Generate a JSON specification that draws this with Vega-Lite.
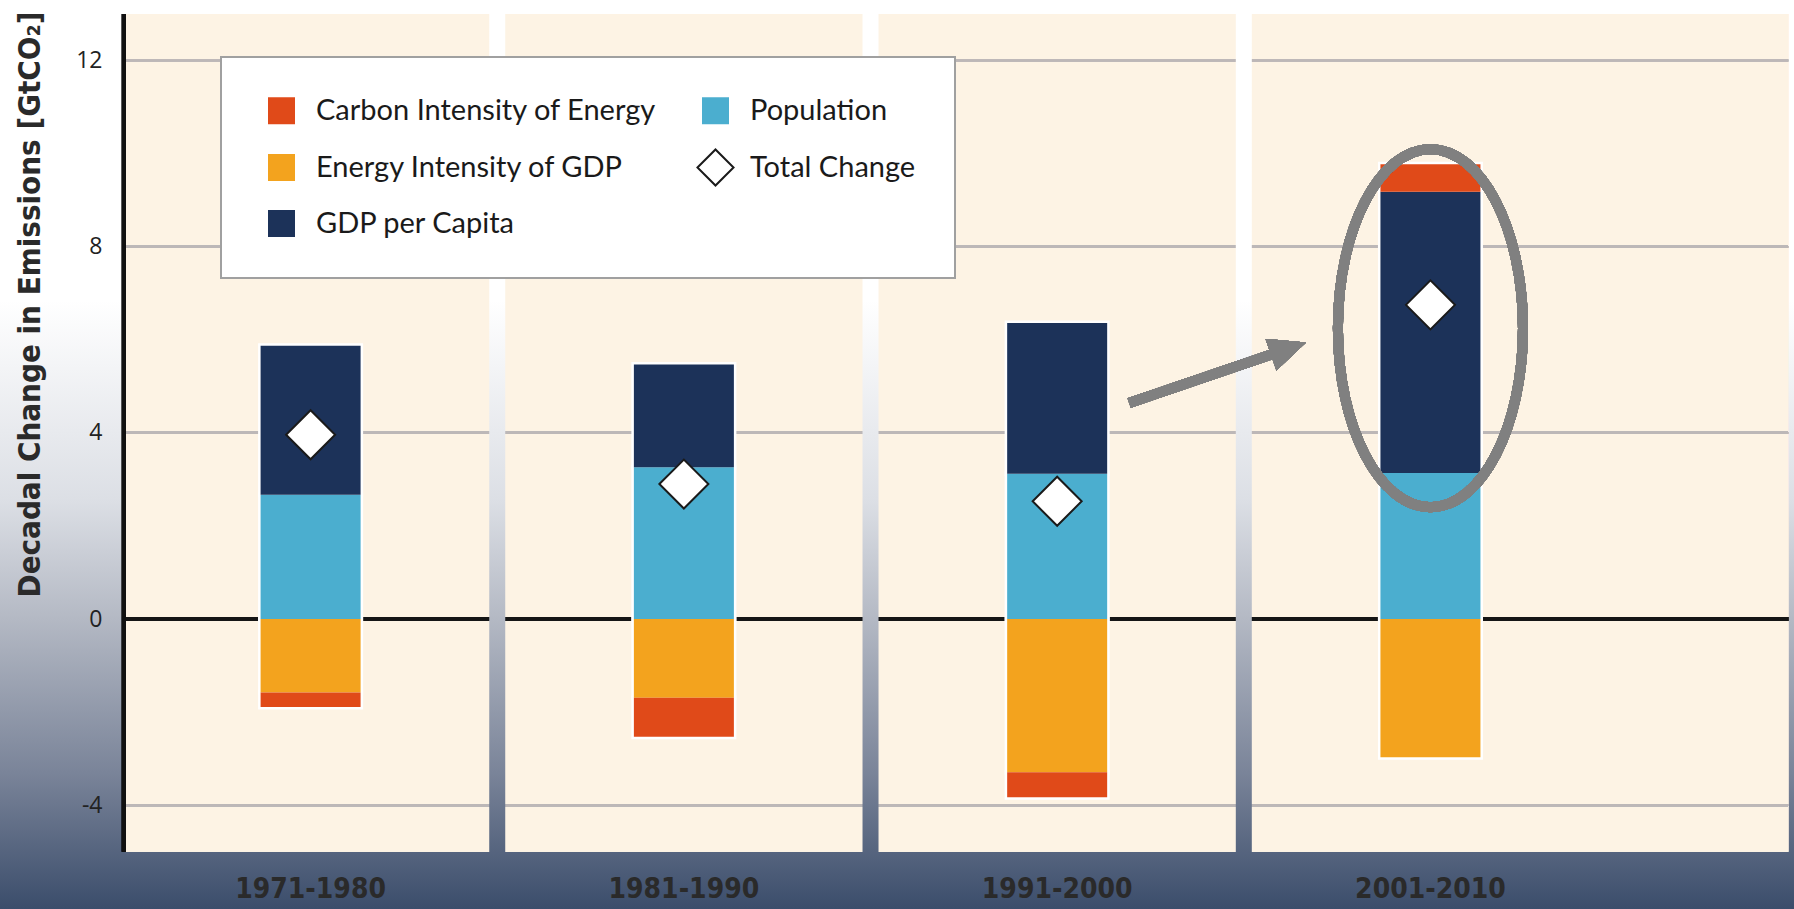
{
  "$schema": "https://vega.github.io/schema/vega-lite/v6.json",
  "width": 1794,
  "height": 909,
  "autosize": {"type": "none"},
  "padding": 0,
  "background": "#ffffff",
  "view": {
    "stroke": null,
    "fill": {
      "gradient": "linear", "x1": 0, "y1": 0, "x2": 0, "y2": 1,
      "stops": [
        {"offset": 0, "color": "#ffffff"},
        {"offset": 0.33, "color": "#ffffff"},
        {"offset": 0.55, "color": "#dcdfe5"},
        {"offset": 0.68, "color": "#b4b9c4"},
        {"offset": 0.85, "color": "#7a8499"},
        {"offset": 1, "color": "#3b4d6b"}
      ]
    }
  },
  "data": {
    "values": [
      {"decade": "1971-1980", "component": "Population", "value": 2.67},
      {"decade": "1971-1980", "component": "GDP per Capita", "value": 3.20},
      {"decade": "1971-1980", "component": "Energy Intensity of GDP", "value": -1.58},
      {"decade": "1971-1980", "component": "Carbon Intensity of Energy", "value": -0.31},
      {"decade": "1971-1980", "component": "Total Change", "value": 3.96},
      {"decade": "1981-1990", "component": "Population", "value": 3.26},
      {"decade": "1981-1990", "component": "GDP per Capita", "value": 2.21},
      {"decade": "1981-1990", "component": "Energy Intensity of GDP", "value": -1.69},
      {"decade": "1981-1990", "component": "Carbon Intensity of Energy", "value": -0.84},
      {"decade": "1981-1990", "component": "Total Change", "value": 2.90},
      {"decade": "1991-2000", "component": "Population", "value": 3.12},
      {"decade": "1991-2000", "component": "GDP per Capita", "value": 3.24},
      {"decade": "1991-2000", "component": "Energy Intensity of GDP", "value": -3.29},
      {"decade": "1991-2000", "component": "Carbon Intensity of Energy", "value": -0.54},
      {"decade": "1991-2000", "component": "Total Change", "value": 2.53},
      {"decade": "2001-2010", "component": "Population", "value": 3.14},
      {"decade": "2001-2010", "component": "GDP per Capita", "value": 6.04},
      {"decade": "2001-2010", "component": "Carbon Intensity of Energy", "value": 0.59},
      {"decade": "2001-2010", "component": "Energy Intensity of GDP", "value": -2.97},
      {"decade": "2001-2010", "component": "Total Change", "value": 6.75}
    ]
  },
  "encoding": {
    "x": {
      "field": "decade", "type": "nominal",
      "scale": {"type": "band", "paddingInner": 0, "paddingOuter": 0.403, "align": 0.412},
      "axis": {
        "orient": "bottom", "offset": -20, "title": null, "domain": false, "ticks": false, "grid": false,
        "labelAngle": 0, "labelPadding": 0, "labelBaseline": "middle",
        "labelFont": "DejaVu Sans Condensed", "labelFontWeight": "bold", "labelFontSize": 28, "labelColor": "#2a2a2a"
      }
    }
  },
  "layer": [
    {
      "mark": {"type": "rect", "color": "#fdf3e4", "x2Offset": 171},
      "encoding": {
        "x": {"datum": "1971-1980", "bandPosition": 0},
        "x2": {"datum": "2001-2010", "bandPosition": 1},
        "y": {
          "datum": 13, "type": "quantitative",
          "scale": {"domain": [-6.23, 13.30], "nice": false, "zero": false},
          "axis": {
            "orient": "left", "offset": -124, "values": [-4, 0, 4, 8, 12],
            "domain": false, "ticks": false, "grid": false, "labelPadding": 22,
            "labelExpr": "datum.value < 0 ? '-' + abs(datum.value) : datum.label",
            "labelFont": "Open Sans", "labelFontSize": 23, "labelColor": "#222222",
            "title": "Decadal Change in Emissions [GtCO₂]",
            "titleFont": "DejaVu Sans Condensed", "titleFontWeight": "bold", "titleFontSize": 31,
            "titleColor": "#2a2a2a", "titleX": -94, "titleY": 304, "titleAngle": -90,
            "titleAlign": "center", "titleBaseline": "middle"
          }
        },
        "y2": {"datum": -5}
      }
    },
    {
      "mark": {"type": "rule", "color": "#bdb7b7", "strokeWidth": 2, "x2Offset": 171},
      "encoding": {"x": {"datum": "1971-1980", "bandPosition": 0}, "x2": {"datum": "2001-2010", "bandPosition": 1}, "y": {"datum": 12}}
    },
    {
      "mark": {"type": "rule", "color": "#bdb7b7", "strokeWidth": 2, "x2Offset": 171},
      "encoding": {"x": {"datum": "1971-1980", "bandPosition": 0}, "x2": {"datum": "2001-2010", "bandPosition": 1}, "y": {"datum": 8}}
    },
    {
      "mark": {"type": "rule", "color": "#bdb7b7", "strokeWidth": 2, "x2Offset": 171},
      "encoding": {"x": {"datum": "1971-1980", "bandPosition": 0}, "x2": {"datum": "2001-2010", "bandPosition": 1}, "y": {"datum": 4}}
    },
    {
      "mark": {"type": "rule", "color": "#bdb7b7", "strokeWidth": 2, "x2Offset": 171},
      "encoding": {"x": {"datum": "1971-1980", "bandPosition": 0}, "x2": {"datum": "2001-2010", "bandPosition": 1}, "y": {"datum": -4}}
    },
    {
      "mark": {"type": "rule", "color": "#151515", "strokeWidth": 4, "x2Offset": 171},
      "encoding": {"x": {"datum": "1971-1980", "bandPosition": 0}, "x2": {"datum": "2001-2010", "bandPosition": 1}, "y": {"datum": 0}}
    },
    {
      "transform": [
        {"filter": "datum.component === 'Population' && datum.decade !== '1971-1980'"}
      ],
      "mark": {
        "type": "rect", "xOffset": -8, "x2Offset": 8,
        "fill": {
          "gradient": "linear", "x1": 0, "y1": 0, "x2": 0, "y2": 1,
          "stops": [
            {"offset": 0, "color": "#ffffff"},
            {"offset": 0.33, "color": "#ffffff"},
            {"offset": 0.55, "color": "#dcdfe5"},
            {"offset": 0.68, "color": "#b4b9c4"},
            {"offset": 0.85, "color": "#7a8499"},
            {"offset": 1, "color": "#3b4d6b"}
          ]
        }
      },
      "encoding": {
        "x": {"field": "decade", "type": "nominal", "bandPosition": 0},
        "x2": {"field": "decade", "bandPosition": 0},
        "y": {"datum": 13.30},
        "y2": {"datum": -6.23}
      }
    },
    {
      "mark": {"type": "rule", "color": "#111111", "strokeWidth": 4},
      "encoding": {"x": {"datum": "1971-1980", "bandPosition": 0}, "y": {"datum": 13}, "y2": {"datum": -5}}
    },
    {
      "transform": [{"filter": "datum.component !== 'Total Change'"}],
      "mark": {"type": "bar", "width": 100, "color": "#ffffff", "stroke": "#ffffff", "strokeWidth": 5},
      "encoding": {
        "y": {"field": "value", "type": "quantitative", "stack": "zero"},
        "order": {"field": "component", "sort": "descending"}
      }
    },
    {
      "transform": [{"filter": "datum.component !== 'Total Change'"}],
      "mark": {"type": "bar", "width": 100},
      "encoding": {
        "y": {"field": "value", "type": "quantitative", "stack": "zero"},
        "order": {"field": "component", "sort": "descending"},
        "color": {
          "field": "component", "type": "nominal",
          "scale": {
            "domain": ["Carbon Intensity of Energy", "Energy Intensity of GDP", "GDP per Capita", "Population", "Total Change"],
            "range": ["#e04a19", "#f3a31e", "#1c3259", "#4baecf", "#ffffff"]
          },
          "legend": {
            "title": null, "orient": "none", "legendX": 221, "legendY": 57, "columns": 2,
            "fillColor": "#ffffff", "strokeColor": "#a0a0a0", "padding": 39,
            "labelFont": "Lato", "labelFontSize": 29, "labelColor": "#1a1a1a",
            "labelOffset": 20, "rowPadding": 19, "columnPadding": 36, "symbolSize": 729, "symbolOffset": 7, "labelLimit": 500,
            "encode": {
              "legend": {"update": {"strokeWidth": {"value": 2}}},
              "symbols": {
                "update": {
                  "shape": {"signal": "datum.value === 'Total Change' ? 'diamond' : 'square'"},
                  "size": {"signal": "datum.value === 'Total Change' ? 1300 : 729"},
                  "fill": {"signal": "scale('color', datum.value)"},
                  "stroke": {"signal": "datum.value === 'Total Change' ? '#1a1a1a' : scale('color', datum.value)"},
                  "strokeWidth": {"signal": "datum.value === 'Total Change' ? 2 : 0"},
                  "opacity": {"value": 1},
                  "fillOpacity": {"value": 1}
                }
              }
            }
          }
        }
      }
    },
    {
      "transform": [{"filter": "datum.component === 'Total Change'"}],
      "mark": {"type": "point", "shape": "diamond", "filled": true, "size": 2400, "stroke": "#1a1a1a", "strokeWidth": 2, "opacity": 1},
      "encoding": {
        "y": {"field": "value", "type": "quantitative"},
        "color": {"field": "component", "type": "nominal"}
      }
    },
    {
      "mark": {
        "type": "point", "filled": false, "color": "#808080", "strokeWidth": 10, "opacity": 1, "size": 128164,
        "shape": "M-0.517,0A0.517,1 0 1,1 0.517,0A0.517,1 0 1,1 -0.517,0Z"
      },
      "encoding": {"x": {"datum": "2001-2010"}, "y": {"datum": 6.25}}
    },
    {
      "mark": {"type": "rule", "color": "#808080", "strokeWidth": 10, "xOffset": 72, "x2Offset": -142},
      "encoding": {"x": {"datum": "1991-2000"}, "x2": {"datum": "2001-2010"}, "y": {"datum": 4.64}, "y2": {"datum": 5.81}}
    },
    {
      "mark": {
        "type": "point", "filled": true, "color": "#808080", "opacity": 1, "size": 1369, "angle": 341, "xOffset": -142,
        "shape": "M-1,-0.9L1,0L-1,0.9Z"
      },
      "encoding": {"x": {"datum": "2001-2010"}, "y": {"datum": 5.81}}
    }
  ]
}
